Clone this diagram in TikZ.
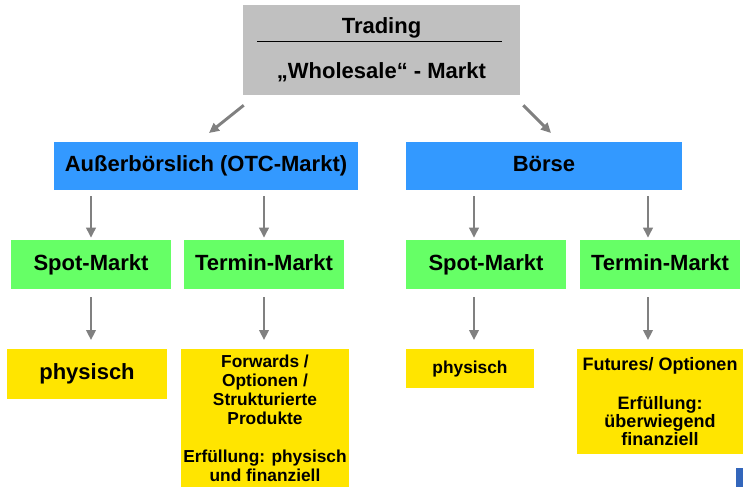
\documentclass[tikz,border=0pt]{standalone}
\usepackage{fontspec}
\setmainfont{Liberation Sans}
\usetikzlibrary{arrows.meta}

\definecolor{topgrey}{HTML}{C0C0C0}
\definecolor{mktblue}{HTML}{3399FF}
\definecolor{mktgreen}{HTML}{66FF66}
\definecolor{mktyellow}{HTML}{FFE500}
\definecolor{arrgrey}{HTML}{808080}
\definecolor{logoblue}{HTML}{3366BB}

\tikzset{
    box/.style={rectangle, inner sep=0pt, align=center},
    bigtxt/.style={font=\bfseries\fontsize{16.5}{19}\selectfont, text height=12pt, text depth=3.5pt},
    smalltxt/.style={font=\bfseries\fontsize{13}{14.25}\selectfont},
    arr/.style={draw=arrgrey, line width=2.2pt, -{Triangle[length=7.5pt,width=7pt]}}
}

\begin{document}
\begin{tikzpicture}[x=0.75pt, y=-0.75pt]
    \useasboundingbox (0,0) rectangle (743,487);

    % top box
    \node[box, fill=topgrey, minimum width=207.75pt, minimum height=67.5pt] (top) at (381.5,50) {};
    \node[font=\bfseries\fontsize{16.5}{19}\selectfont, anchor=base] (toptitle) at (381.5,33) {Trading};
    \node[font=\bfseries\fontsize{16.5}{19}\selectfont, anchor=base] (topsub) at (381.5,78) {„Wholesale“ - Markt};
    \draw[line width=0.6pt] (257,41) -- (502,41);

    % blue
    \node[box, bigtxt, fill=mktblue, minimum width=228pt, minimum height=36pt] (otc) at (206,166) {Außerbörslich (OTC-Markt)};
    \node[box, bigtxt, fill=mktblue, minimum width=207pt, minimum height=36pt] (boerse) at (544,166) {Börse};

    % green
    \node[box, bigtxt, fill=mktgreen, minimum width=120pt, minimum height=36.75pt] (ospot) at (91,264.5) {Spot-Markt};
    \node[box, bigtxt, fill=mktgreen, minimum width=120pt, minimum height=36.75pt] (oterm) at (264,264.5) {Termin-Markt};
    \node[box, bigtxt, fill=mktgreen, minimum width=120pt, minimum height=36.75pt] (bspot) at (486,264.5) {Spot-Markt};
    \node[box, bigtxt, fill=mktgreen, minimum width=120pt, minimum height=36.75pt] (bterm) at (660,264.5) {Termin-Markt};

    % yellow
    \node[box, bigtxt, fill=mktyellow, minimum width=120pt, minimum height=37.5pt] (ophys) at (87,374) {physisch};
    \node[box, smalltxt, fill=mktyellow, minimum width=126pt, minimum height=103.5pt] (ofwd) at (265,418)
        {Forwards /\\Optionen /\\Strukturierte\\Produkte\\[14.25pt]Erfüllung: physisch\\und finanziell};
    \node[box, smalltxt, fill=mktyellow, minimum width=96pt, minimum height=29.25pt, text height=9.7pt, text depth=2.8pt] (bphys) at (470,368.5) {physisch};
    \node[box, smalltxt, fill=mktyellow, minimum width=124.5pt, minimum height=78.75pt, font=\bfseries\fontsize{13.5}{13.5}\selectfont] (bfut) at (660,401.5)
        {Futures/ Optionen\\[15.75pt]Erfüllung:\\überwiegend\\finanziell};

    % logo rest
    \fill[logoblue] (736,468) rectangle (743,487);

    % arrows
    \coordinate (otcin) at (209,133);
    \coordinate (boersein) at (551,133);
    \draw[arr] ([shift={(1,10)}]top.south west) -- (otcin);
    \draw[arr] ([shift={(3,10)}]top.south east) -- (boersein);

    \draw[arr, shorten <=4.5pt, shorten >=1.5pt] (otc.south -| ospot.north) -- (ospot.north);
    \draw[arr, shorten <=4.5pt, shorten >=1.5pt] (otc.south -| oterm.north) -- (oterm.north);
    \draw[arr, shorten <=4.5pt, shorten >=1.5pt] ([xshift=-9pt]bspot.north |- boerse.south) -- ([xshift=-9pt]bspot.north);
    \draw[arr, shorten <=4.5pt, shorten >=1.5pt] ([xshift=-9pt]bterm.north |- boerse.south) -- ([xshift=-9pt]bterm.north);

    \draw[arr, shorten <=6pt, shorten >=6.5pt] (ospot.south) -- (ospot.south |- ophys.north);
    \draw[arr, shorten <=6pt, shorten >=6.5pt] (oterm.south) -- (oterm.south |- ofwd.north);
    \draw[arr, shorten <=6pt, shorten >=6.5pt] ([xshift=-9pt]bspot.south) -- ([xshift=-9pt]bspot.south |- bphys.north);
    \draw[arr, shorten <=6pt, shorten >=6.5pt] ([xshift=-9pt]bterm.south) -- ([xshift=-9pt]bterm.south |- bfut.north);
\end{tikzpicture}
\end{document}
